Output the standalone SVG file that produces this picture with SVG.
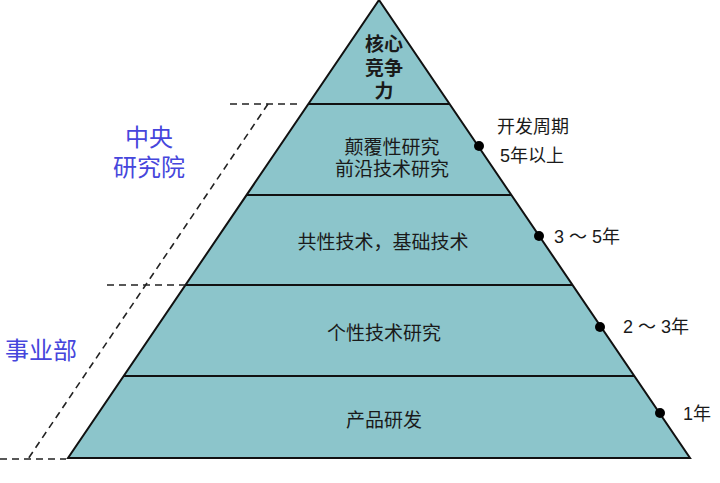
<svg xmlns="http://www.w3.org/2000/svg" width="720" height="483" viewBox="0 0 720 483">
<style>
.t{font-family:"Liberation Sans","Noto Sans CJK SC",sans-serif;font-size:19px;fill:#1a1a1a;text-anchor:middle;dominant-baseline:central}
.r{font-family:"Liberation Sans","Noto Sans CJK SC",sans-serif;font-size:18px;fill:#1a1a1a;dominant-baseline:central}
.b{font-family:"Liberation Sans","Noto Sans CJK SC",sans-serif;font-size:24px;fill:#4646dc;text-anchor:middle;dominant-baseline:central}
.d{stroke:#222;stroke-width:1.6;stroke-dasharray:7,5;fill:none}
.h{stroke:#111;stroke-width:2.2}
</style>
<rect width="720" height="483" fill="#fff"/>
<g id="pyramid">
<polygon points="379,0 690,458 68,458" fill="#8cc5cb" stroke="#111" stroke-width="2"/>
</g>
<g id="connectors">
<line class="h" x1="308" y1="104" x2="450" y2="104"/>
<line class="h" x1="247" y1="195" x2="511" y2="195"/>
<line class="h" x1="186" y1="285" x2="572" y2="285"/>
<line class="h" x1="124" y1="376" x2="634" y2="376"/>
<line class="h" x1="68" y1="458" x2="690" y2="458"/>
<line class="d" x1="230" y1="104" x2="300" y2="104"/>
<line class="d" x1="268" y1="104" x2="28" y2="459"/>
<line class="d" x1="107" y1="285" x2="185" y2="285"/>
<line class="d" x1="0" y1="459" x2="66" y2="459"/>
</g>
<g id="core"><text class="t" x="384" y="44" font-weight="bold">核心</text><text class="t" x="384" y="68" font-weight="bold">竞争</text><text class="t" x="384" y="91" font-weight="bold">力</text></g>
<g id="layer2"><text class="t" x="392" y="147">颠覆性研究</text><text class="t" x="392" y="169">前沿技术研究</text></g>
<g id="layer3"><text class="t" x="383" y="242">共性技术，基础技术</text></g>
<g id="layer4"><text class="t" x="384" y="333">个性技术研究</text></g>
<g id="layer5"><text class="t" x="384" y="420">产品研发</text></g>
<g id="label-central"><text class="b" x="149" y="137">中央</text><text class="b" x="149" y="167">研究院</text></g>
<g id="label-bu"><text class="b" x="41" y="350">事业部</text></g>
<g id="dots" fill="#000">
<circle cx="479" cy="146" r="5"/>
<circle cx="539" cy="236" r="5"/>
<circle cx="600" cy="327" r="5"/>
<circle cx="660" cy="413" r="5"/>
</g>
<g id="cycles">
<text class="r" x="497" y="127">开发周期</text>
<text class="r" x="500" y="156">5年以上</text>
<text class="r" x="554" y="237">3 ～ 5年</text>
<text class="r" x="623" y="327">2 ～ 3年</text>
<text class="r" x="683" y="414">1年</text>
</g>
</svg>
